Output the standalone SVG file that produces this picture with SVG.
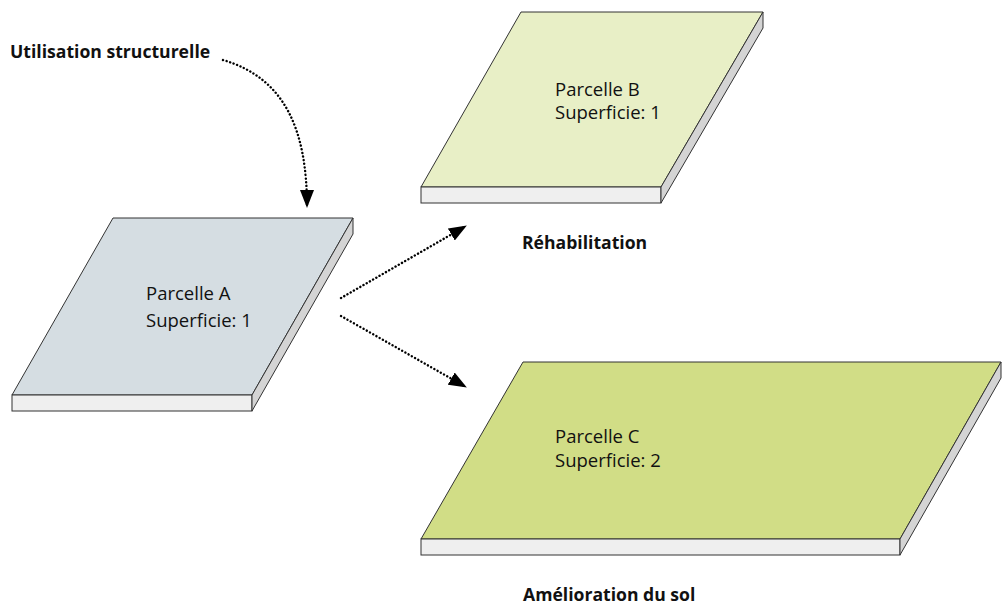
<svg xmlns="http://www.w3.org/2000/svg" width="1008" height="606" viewBox="0 0 1008 606">
<style>
.top{stroke:#333;stroke-width:1;stroke-linejoin:round}
.front{fill:#efefef;stroke:#333;stroke-width:1}
.side{fill:#d4d4d4;stroke:#333;stroke-width:1;stroke-linejoin:round}
.lbl{font-family:"Open Sans","Noto Sans",sans-serif;font-size:18.5px;fill:#111}
.cap{font-family:"Open Sans","Noto Sans",sans-serif;font-size:17.6px;font-weight:bold;fill:#111}
.con{fill:none;stroke:#000;stroke-width:2.4;stroke-dasharray:0.1 3.6;stroke-linecap:round}
</style>
<defs>
<marker id="ah" viewBox="0 0 18 14" refX="17" refY="7" markerWidth="18" markerHeight="14" orient="auto" markerUnits="userSpaceOnUse">
<path d="M0,0 L18,7 L0,14 Z" fill="#000"/>
</marker>
</defs>
<rect width="1008" height="606" fill="#fff"/>
<g id="parcelle-a">
<polygon class="top" fill="#d5dde2" points="113,218 353,218 252,395 12,395"/>
<rect class="front" x="12" y="395" width="240" height="16"/>
<polygon class="side" points="252,395 353,218 353,234 252,411"/>
<text class="lbl" x="146" y="300">Parcelle A</text>
<text class="lbl" x="146" y="327">Superficie: 1</text>
</g>
<g id="parcelle-b">
<polygon class="top" fill="#e8efc6" points="521,12 763,12 661,187 421,187"/>
<rect class="front" x="421" y="187" width="240" height="16"/>
<polygon class="side" points="661,187 763,12 763,28 661,203"/>
<text class="lbl" x="555" y="96">Parcelle B</text>
<text class="lbl" x="555" y="119">Superficie: 1</text>
</g>
<g id="parcelle-c">
<polygon class="top" fill="#d1dd86" points="523,362 1001,362 900,539 421,539"/>
<rect class="front" x="421" y="539" width="479" height="16"/>
<polygon class="side" points="900,539 1001,362 1001,378 900,555"/>
<text class="lbl" x="555" y="443">Parcelle C</text>
<text class="lbl" x="555" y="467">Superficie: 2</text>
</g>
<g id="labels">
<text class="cap" x="10" y="58">Utilisation structurelle</text>
<text class="cap" x="522" y="249">Réhabilitation</text>
<text class="cap" x="523" y="601">Amélioration du sol</text>
</g>
<g id="connectors">
<path class="con" d="M223,60 C285,78 307,130 307,207" marker-end="url(#ah)"/>
<path class="con" d="M341,298 L466,226" marker-end="url(#ah)"/>
<path class="con" d="M341,316 L466,387" marker-end="url(#ah)"/>
</g>
</svg>
